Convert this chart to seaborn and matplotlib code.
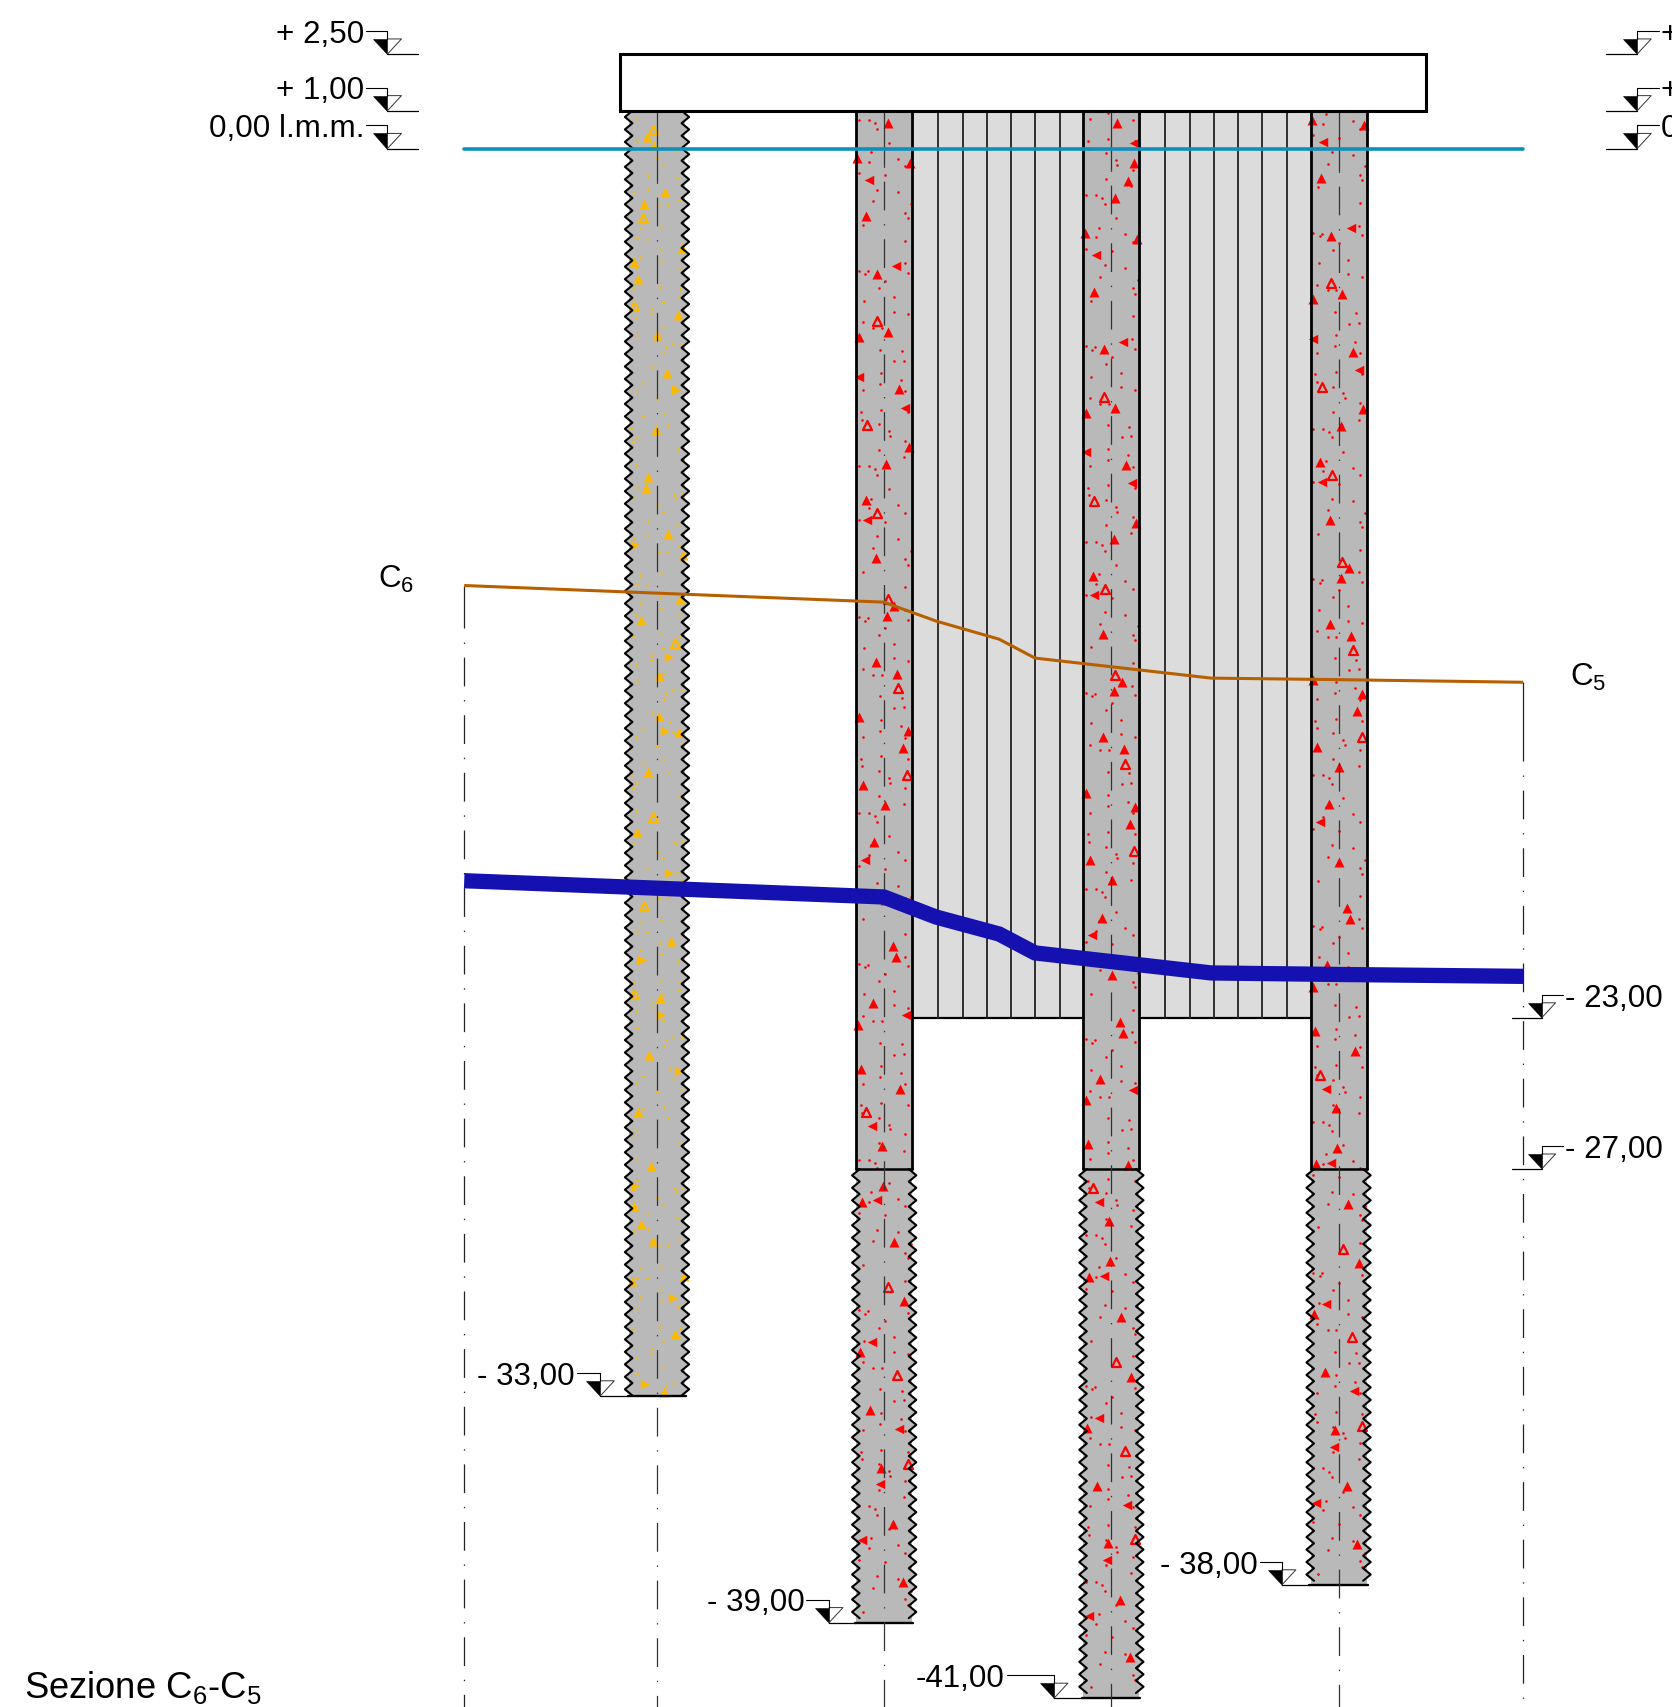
import numpy as np
import matplotlib
matplotlib.use("Agg")
import matplotlib.pyplot as plt
from matplotlib.patches import Rectangle
import seaborn as sns

# everything is in metres: x from the first pile axis, y is the elevation on l.m.m.
PX = 37.8
X_LEFT, X_RIGHT = -17.38, 26.85
Y_TOP, Y_BOTTOM = 3.93, -41.23

PILE_X = [0.0, 6.01, 12.02, 18.03]
PILE_BOTTOM = [-33.0, -39.0, -41.0, -38.0]
PILE_TILE_BASE = [3.53, -8.89, -10.89, -7.89]
PILE_FIRST_DOT = [-0.88, -0.47, -0.57, -0.6]
CASED_BOTTOM = -27.0
CAP_X = [-0.99, 20.34]
CAP_Y = [1.0, 2.5]
PANEL_BOTTOM = -23.0
PANEL_LINES = [7.44, 8.09, 8.73, 9.37, 10.01, 10.66, 13.44, 14.09, 14.73, 15.37, 16.01, 16.66]

SECTION_X = [-5.1, 22.91]
SECTION_TOP = [-11.56, -14.1]
SECTION_FIRST_DOT = [-13.05, -16.57]

WATER_X = [-5.1, 22.91]
WATER_Y = [0.0, 0.0]
PROFILE_X = [-5.1, 6.0, 7.38, 9.05, 10.0, 14.66, 18.0, 22.91]
ORANGE_Y = [-11.56, -12.0, -12.5, -12.98, -13.48, -14.01, -14.05, -14.12]
BLUE_Y = [-19.37, -19.8, -20.33, -20.78, -21.28, -21.81, -21.85, -21.9]

LEVEL_TEXT = ["+ 2,50", "+ 1,00", "0,00 l.m.m.", "+ 2,50", "+ 1,00", "0,00 l.m.m.",
              "- 23,00", "- 27,00", "- 33,00", "- 39,00", "-41,00", "- 38,00"]
LEVEL_Y = [2.5, 1.0, 0.0, 2.5, 1.0, 0.0, -23.0, -27.0, -33.0, -39.0, -41.0, -38.0]
LEVEL_APEX = [-7.13, -7.13, -7.13, 25.93, 25.93, 25.93, 23.4, 23.4, -1.5, 4.55, 10.5, 16.53]
LEVEL_LEADER = [-7.7, -7.7, -7.7, 26.5, 26.5, 26.5, 23.97, 23.97, -2.12, 3.95, 9.25, 15.95]
LEVEL_BASE = [-6.32, -6.32, -6.32, 25.1, 25.1, 25.1, 22.62, 22.62, -0.78, 5.25, 11.25, 17.25]

TRI_DX = [0.15, 0.61, 0.43, 0.10, -0.71, 0.67, -0.47, -0.19, 0.10, -0.67, 0.39, 0.65, 0.06,
          -0.48, -0.22, 0.27, 0.07, -0.22, 0.34, -0.67, 0.62, 0.49, -0.56, 0.01, -0.26,
          0.02, 0.23, 0.3, -0.3, -0.68, -0.62, 0.43, -0.06, -0.04, -0.59, 0.25,
          0.53, -0.65, -0.37, -0.09, 0.22, 0.49]
TRI_DY = [-11.56, -10.5, -10.03, -9.57, -8.65, -8.5, -7.1, -5.58, -4.03, -3.9, -2.52, -0.99, -0.55,
          0.41, 1.94, 3.22, 3.47, 4.69, 5.0, 6.16, 6.53, 6.98, 7.94, 8.47, 9.46,
          10.98, 12.21, 12.5, 13.72, 14.29, 15.45, 15.99, 17.49, 18.55, 18.97, 20.03,
          21.6, 22.95, 24.49, 26.01, 27.5, 29.03]
LEFT_DX = [0.59, -0.41, 0.32, -0.67, 0.54, -0.45, -0.5, 0.58, -0.33, -0.2, -0.33, 0.40, -0.11, -0.59]
LEFT_DY = [-11.03, -8.07, -5.78, -2.85, -2.03, 0.93, 9.92, 14.02, 16.98, 18.94, 22.69, 24.99, 26.45, 27.93]
OPEN_DX = [-0.19, -0.45, -0.18, 0.1, 0.37, 0.61, -0.48, 0.11, 0.35, 0.62]
OPEN_DY = [-4.32, -1.57, 0.75, 3.04, 5.38, 7.69, 16.61, 21.22, 23.56, 25.9]
TRI_PERIOD = 42.0

DOT_DX = [-0.34, -0.41, 0.37, 0.56, 0.13, -0.67, 0.01, -0.18, 0.37, -0.29, 0.70, 0.56, 0.63, -0.55,
          0.56, -0.67, -0.44, -0.50, 0.54, 0.63, 0.01, -0.53, -0.15, 0.25, 0.25, 0.62, -0.57, -0.29,
          -0.06, -0.10, 0.46, 0.27, 0.53, -0.08, 0.44, -0.10, -0.56, 0.56, -0.62, -0.08, 0.63, -0.58,
          -0.15, 0.13, 0.16, 0.56, -0.15, 0.53, -0.67, -0.41, -0.25, -0.18]
DOT_DY = [0.37, 0.63, 0.55, 0.75, 0.13, 0.93, 0.99, 1.37, 1.44, 1.68, 1.75, 1.98, 2.12, 2.31,
          2.72, 3.51, 3.53, 3.60, 3.32, 3.57, 3.79, 4.32, 3.97, 4.22, 4.60, 4.67, 4.88, 5.03,
          5.03, 5.60, 5.64, 5.91, 5.89, 6.22, 6.39, 6.51, 6.68, 6.70, 7.25, 7.19, 7.25, 7.45,
          7.58, 7.76, 7.89, 8.02, 8.25, 8.45, 8.69, 8.69, 8.77, 8.92]
DOT_PERIOD = 9.17

PILE_GRAY = "#b9b9b9"
PANEL_GRAY = "#dcdcdc"
RED = "#ff0000"
YELLOW = "#fcb900"
WATER = "#0d8fbb"
ORANGE = "#b85f00"
BLUE = "#1510b0"
AXIS_DASH = (0, (1.1, 11, 23, 11))

sns.set_theme(style="white")
plt.rcParams["font.family"] = ["Liberation Sans", "DejaVu Sans"]
plt.rcParams["mathtext.fontset"] = "custom"
plt.rcParams["mathtext.rm"] = "Liberation Sans"
plt.rcParams["mathtext.default"] = "regular"


def line(ax, xs, ys, color="black", lw=1.0, z=5, **kws):
    sns.lineplot(x=xs, y=ys, sort=False, estimator=None, color=color, linewidth=lw,
                 legend=False, ax=ax, zorder=z, **kws)


def zigzag(side, top, bottom, step=0.33):
    # saw edge of an uncased pile, from top to bottom
    ys = np.arange(top, bottom, -step / 2)
    offs = np.where(np.arange(len(ys)) % 2 == 0, 0.65, 0.85)
    return side * offs, ys


def tile_ys(dy, base, period, top, bottom):
    first = top - ((top - (base - np.array(dy))) % period)
    ys, kept = [], []
    for k in range(7):
        y = first - k * period
        keep = y > bottom + 0.1
        ys.append(y[keep])
        kept.append(np.nonzero(keep)[0])
    return np.concatenate(kept), np.concatenate(ys)


def aggregate(ax, px, base, top, bottom, color, flip):
    sign = -1 if flip else 1
    idx, ys = tile_ys(DOT_DY, base, DOT_PERIOD, top, bottom)
    sns.scatterplot(x=px + sign * np.array(DOT_DX)[idx], y=ys, s=3.5, color=color, linewidth=0,
                    legend=False, ax=ax, zorder=3)
    idx, ys = tile_ys(TRI_DY, base, TRI_PERIOD, top, bottom)
    sns.scatterplot(x=px + sign * np.array(TRI_DX)[idx], y=ys, s=52, marker="^", color=color,
                    linewidth=0, legend=False, ax=ax, zorder=3)
    idx, ys = tile_ys(LEFT_DY, base, TRI_PERIOD, top, bottom)
    sns.scatterplot(x=px + sign * np.array(LEFT_DX)[idx], y=ys, s=46, marker=">" if flip else "<",
                    color=color, linewidth=0, legend=False, ax=ax, zorder=3)
    idx, ys = tile_ys(OPEN_DY, base, TRI_PERIOD, top, bottom)
    sns.scatterplot(x=px + sign * np.array(OPEN_DX)[idx], y=ys, s=42, marker="^", color=PILE_GRAY,
                    edgecolor=color, linewidth=1.6, legend=False, ax=ax, zorder=3)


def draw_pile(ax, px, bottom, cased, base, first_dot, color, flip):
    if cased:
        ax.add_patch(Rectangle((px - 0.74, CASED_BOTTOM), 1.48, CAP_Y[0] - CASED_BOTTOM,
                               fc=PILE_GRAY, ec="none", zorder=2))
        for side in (-1, 1):
            line(ax, [px + side * 0.74] * 2, [CAP_Y[0], CASED_BOTTOM], lw=2.0, z=4)
        line(ax, [px - 0.74, px + 0.74], [CASED_BOTTOM, CASED_BOTTOM], lw=1.8, z=4)
        saw_top = CASED_BOTTOM
    else:
        saw_top = CAP_Y[0]
    lx, ly = zigzag(-1, saw_top, bottom)
    rx, ry = zigzag(1, saw_top, bottom)
    ax.fill(np.r_[px + lx, px + rx[::-1]], np.r_[ly, ry[::-1]], fc=PILE_GRAY, ec="none", zorder=2)
    ax.add_patch(Rectangle((px - 0.74, bottom), 1.48, saw_top - bottom, fc=PILE_GRAY, ec="none", zorder=2))
    for sx, sy in ((lx, ly), (rx, ry)):
        line(ax, px + sx, sy, lw=1.5, z=4)
    line(ax, [px - 0.77, px + 0.77], [bottom, bottom], lw=1.7, z=4)
    aggregate(ax, px, base, CAP_Y[0], bottom, color, flip)
    # axis of the pile, runs on below the toe
    line(ax, [px, px], [CAP_Y[0], first_dot], color="#333333", lw=0.9, z=4, solid_capstyle="butt")
    line(ax, [px, px], [first_dot, Y_BOTTOM], color="#333333", lw=0.9, z=4, linestyle=AXIS_DASH)


def level_mark(ax, text, y, apex, leader, base):
    d = 1 if leader > apex else -1
    ax.fill([apex, apex, apex - 0.37], [y, y + 0.4, y + 0.4], fc="black", ec="black", lw=0.4, zorder=6)
    line(ax, [apex, apex + 0.37, apex], [y, y + 0.4, y + 0.4], lw=0.7, z=6, color="#333333")
    line(ax, [base, apex], [y, y], lw=0.9, z=6)
    line(ax, [apex, apex, leader], [y + 0.4, y + 0.61, y + 0.61], lw=0.8, z=6)
    ax.text(leader + d * 0.05, y + 0.3, text, fontsize=22.6, va="baseline",
            ha="left" if d > 0 else "right", color="black", zorder=7)


fig = plt.figure(figsize=(16.72, 17.07), dpi=100)
ax = fig.add_axes([0, 0, 1, 1])
ax.set_xlim(X_LEFT, X_RIGHT)
ax.set_ylim(Y_BOTTOM, Y_TOP)
ax.set_axis_off()

# panels between the cased piles
for x0, x1 in ((PILE_X[1] + 0.74, PILE_X[2] - 0.74), (PILE_X[2] + 0.74, PILE_X[3] - 0.74)):
    ax.add_patch(Rectangle((x0, PANEL_BOTTOM), x1 - x0, CAP_Y[0] - PANEL_BOTTOM, fc=PANEL_GRAY, ec="none", zorder=1))
    line(ax, [x0, x1], [PANEL_BOTTOM, PANEL_BOTTOM], lw=1.6, z=2)
for x in PANEL_LINES:
    line(ax, [x, x], [CAP_Y[0], PANEL_BOTTOM], lw=1.3, z=2, color="#222222")

for i, px in enumerate(PILE_X):
    draw_pile(ax, px, PILE_BOTTOM[i], i > 0, PILE_TILE_BASE[i], PILE_FIRST_DOT[i],
              YELLOW if i == 0 else RED, i == 0)

ax.add_patch(Rectangle((CAP_X[0], CAP_Y[0]), CAP_X[1] - CAP_X[0], CAP_Y[1] - CAP_Y[0],
                       fc="white", ec="black", lw=2.2, zorder=5))

for x, top, dot in zip(SECTION_X, SECTION_TOP, SECTION_FIRST_DOT):
    line(ax, [x, x], [top, dot + 0.37], lw=0.9, color="#222222", z=4, solid_capstyle="butt")
    line(ax, [x, x], [dot, Y_BOTTOM], lw=0.9, color="#222222", z=4, linestyle=AXIS_DASH)

line(ax, WATER_X, WATER_Y, color=WATER, lw=2.6, z=6)
line(ax, PROFILE_X, ORANGE_Y, color=ORANGE, lw=2.2, z=6, solid_capstyle="butt")
line(ax, PROFILE_X, BLUE_Y, color=BLUE, lw=11, z=6, solid_capstyle="butt", solid_joinstyle="miter")

for i, text in enumerate(LEVEL_TEXT):
    level_mark(ax, text, LEVEL_Y[i], LEVEL_APEX[i], LEVEL_LEADER[i], LEVEL_BASE[i])

ax.text(-7.38, -11.63, "C$_6$", fontsize=22.6, va="baseline", color="black")
ax.text(24.15, -14.22, "C$_5$", fontsize=22.6, va="baseline", color="black")
ax.text(-16.75, -40.99, "Sezione C$_6$-C$_5$", fontsize=26.2, va="baseline", color="black")

fig.savefig("out.png", dpi=100)
